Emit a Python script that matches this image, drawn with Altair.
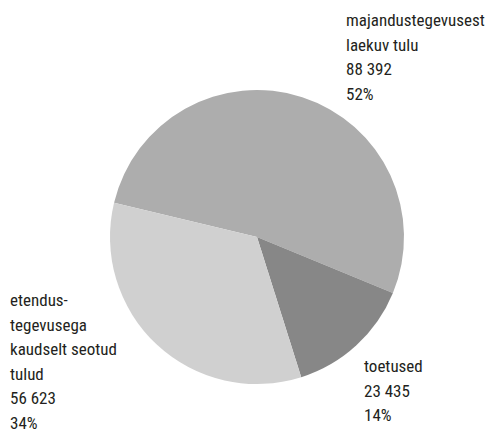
import math
import altair as alt
import pandas as pd

categories = ["majandustegevusest laekuv tulu", "toetused", "etendustegevusega kaudselt seotud tulud"]
values = [88392, 23435, 56623]
label_lines = [
    "majandustegevusest\nlaekuv tulu\n88 392\n52%",
    "toetused\n23 435\n14%",
    "etendus-\ntegevusega\nkaudselt seotud\ntulud\n56 623\n34%",
]
colors = ["#adadad", "#878787", "#d0d0d0"]

df = pd.DataFrame({"cat": categories, "val": values, "order": [0, 1, 2], "label": label_lines})

start = math.radians(283.5)
pie = alt.Chart(df).mark_arc(stroke=None).encode(
    theta=alt.Theta("val:Q", stack=True, scale=alt.Scale(range=[start, start + 2 * math.pi])),
    color=alt.Color("cat:N", scale=alt.Scale(domain=categories, range=colors), legend=None),
    order=alt.Order("order:Q"),
    x=alt.value(249),
    y=alt.value(229),
    radius=alt.value(147),
)

font = "Roboto Condensed, Liberation Sans Narrow, DejaVu Sans Condensed, sans-serif"
pos = [(338, 18), (356, 364), (2, 298)]
layers = [pie]
for i, (px, py) in enumerate(pos):
    layers.append(
        alt.Chart(df.iloc[[i]]).mark_text(
            align="left", baseline="alphabetic", lineBreak="\n", lineHeight=24.6,
            font=font, fontSize=17, color="#231f20",
        ).encode(text="label:N", x=alt.value(px), y=alt.value(py))
    )

chart = alt.layer(*layers).properties(
    width=479, height=424, padding=0, autosize="none"
).configure_view(stroke=None)

chart.save("out.html", embed_options={"renderer": "svg", "actions": False})
